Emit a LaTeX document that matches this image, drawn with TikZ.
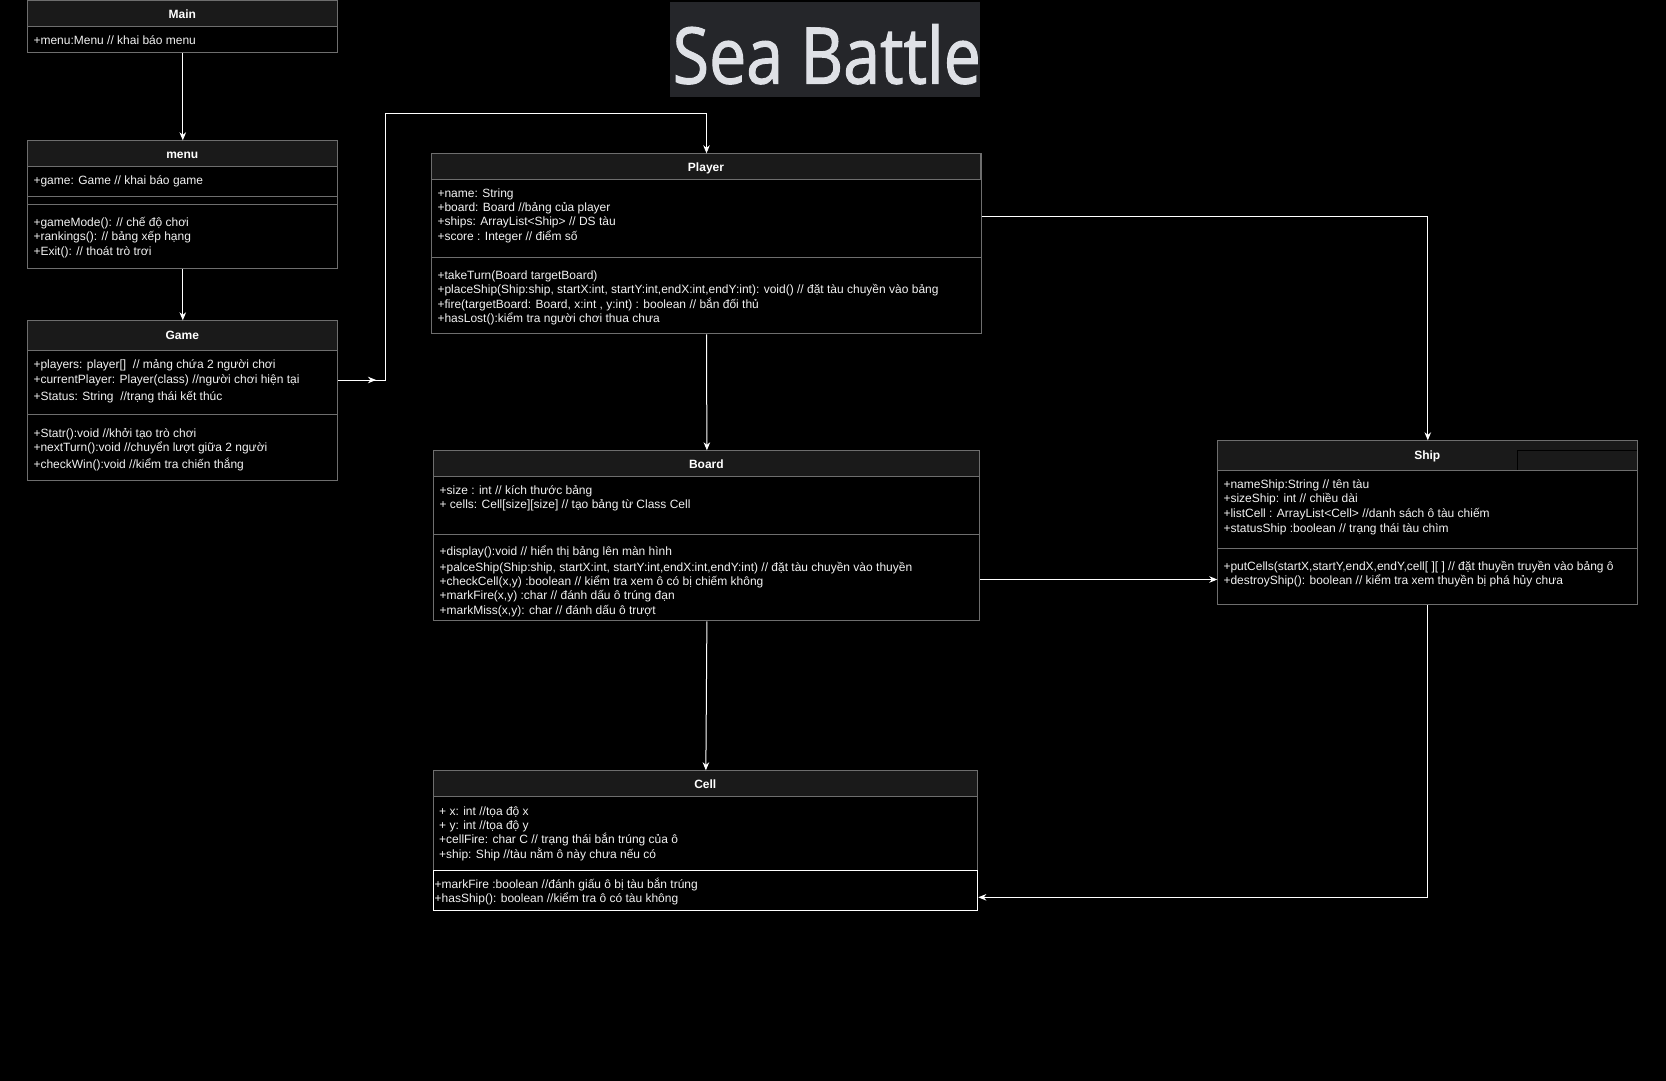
\documentclass[tikz,border=0pt]{standalone}
\usepackage{fontspec}
\setmainfont{Liberation Sans}
\newfontfamily\titlefont[FakeBold=1.5]{Open Sans}
\usetikzlibrary{arrows.meta}
\definecolor{bordergray}{HTML}{6E6E6E}
\definecolor{headfill}{HTML}{1A1A1A}
\definecolor{titlebg}{HTML}{25262A}
\definecolor{titletxt}{HTML}{DFE1E6}
\definecolor{txtcol}{HTML}{F2F2F2}
\tikzset{
  classbox/.style={draw=bordergray, line width=1pt, anchor=north west, inner sep=0pt, fill=black},
  headbox/.style={draw=bordergray, line width=1pt, fill=headfill},
  sepline/.style={draw=bordergray, line width=1pt},
  headtxt/.style={font=\bfseries\fontsize{12}{14}\selectfont, text=white, inner sep=0pt, text height=10.5pt, text depth=1pt},
  membertxt/.style={font=\fontsize{12}{14}\selectfont, text=txtcol, anchor=west, inner sep=0pt, text height=10.5pt, text depth=1pt},
  wire/.style={draw=white, line width=1pt},
  arrowend/.style={-{Stealth[length=8pt,width=6.5pt,inset=2.5pt]}}
}
\begin{document}
\begin{tikzpicture}[x=1pt,y=-1pt]
\useasboundingbox (0,0) rectangle (1666,1081);
\fill[black] (0,0) rectangle (1666,1081);

% ---------- Title ----------
\node[anchor=north west, minimum width=310pt, minimum height=95pt, fill=titlebg, inner sep=0pt] (titlebox) at (670,1.7) {};
\node[anchor=base west, inner sep=0pt, xscale=0.85, text=titletxt, font=\titlefont\fontsize{78}{80}\selectfont] (title) at (672.5,83.5) {Sea Battle};

% ---------- Main ----------
\node[classbox, minimum width=310pt, minimum height=51.6pt] (main) at (27.3,0.7) {};
\draw[headbox] (27.3,0.7) rectangle (337.3,26.3);
\node[headtxt] (mainH) at (182.3,13.5) {Main};
\node[membertxt] (mainA1) at (33.3,40) {+menu:Menu // khai báo menu};

% ---------- menu ----------
\node[classbox, minimum width=310pt, minimum height=127.7pt] (menu) at (27.3,140.3) {};
\draw[headbox] (27.3,140.3) rectangle (337.3,166.3);
\draw[sepline] (27.3,196.3) -- (337.3,196.3);
\draw[sepline] (27.3,204) -- (337.3,204);
\node[headtxt] (menuH) at (182.3,153.8) {menu};
\node[membertxt] (menuA1) at (33.3,180) {+game: Game // khai báo game};
\node[membertxt] (menuM1) at (33.3,221.7) {+gameMode(): // chế độ chơi};
\node[membertxt] (menuM2) at (33.3,236) {+rankings(): // bảng xếp hạng};
\node[membertxt] (menuM3) at (33.3,250.3) {+Exit(): // thoát trò trơi};

% ---------- Game ----------
\node[classbox, minimum width=310pt, minimum height=160pt] (game) at (27.3,320.3) {};
\draw[headbox] (27.3,320.3) rectangle (337.3,350.3);
\draw[sepline] (27.3,414.3) -- (337.3,414.3);
\node[headtxt] (gameH) at (182.3,334.5) {Game};
\node[membertxt] (gameA1) at (33.3,363.3) {+players: player[]\ \ // mảng chứa 2 người chơi};
\node[membertxt] (gameA2) at (33.3,379) {+currentPlayer: Player(class) //người chơi hiện tại};
\node[membertxt] (gameA3) at (33.3,395.7) {+Status: String\ \ //trạng thái kết thúc};
\node[membertxt] (gameM1) at (33.3,432.3) {+Statr():void //khởi tạo trò chơi};
\node[membertxt] (gameM2) at (33.3,446.7) {+nextTurn():void //chuyển lượt giữa 2 người};
\node[membertxt] (gameM3) at (33.3,464) {+checkWin():void //kiểm tra chiến thắng};

% ---------- Player ----------
\node[classbox, minimum width=549.4pt, minimum height=180pt] (player) at (431.3,153.3) {};
\draw[headbox] (431.3,153.3) rectangle (980.7,179.3);
\draw[sepline] (431.3,257.3) -- (980.7,257.3);
\node[headtxt] (playerH) at (706,166.8) {Player};
\node[membertxt] (playerA1) at (437.3,192.7) {+name: String};
\node[membertxt] (playerA2) at (437.3,206.7) {+board: Board //bảng của player};
\node[membertxt] (playerA3) at (437.3,221.2) {+ships: ArrayList<Ship> // DS tàu};
\node[membertxt] (playerA4) at (437.3,235.5) {+score : Integer // điểm số};
\node[membertxt] (playerM1) at (437.3,275) {+takeTurn(Board targetBoard)};
\node[membertxt] (playerM2) at (437.3,289) {+placeShip(Ship:ship, startX:int, startY:int,endX:int,endY:int): void() // đặt tàu chuyền vào bảng};
\node[membertxt] (playerM3) at (437.3,303.3) {+fire(targetBoard: Board, x:int , y:int) : boolean // bắn đối thủ};
\node[membertxt] (playerM4) at (437.3,317.3) {+hasLost():kiểm tra người chơi thua chưa};

% ---------- Board ----------
\node[classbox, minimum width=546pt, minimum height=170pt] (board) at (433.4,450.3) {};
\draw[headbox] (433.4,450.3) rectangle (979.4,476.3);
\draw[sepline] (433.4,534.7) -- (979.4,534.7);
\node[headtxt] (boardH) at (706.4,464) {Board};
\node[membertxt] (boardA1) at (439.4,490) {+size : int // kích thước bảng};
\node[membertxt] (boardA2) at (439.4,504) {+ cells: Cell[size][size] // tạo bảng từ Class Cell};
\node[membertxt] (boardM1) at (439.4,551) {+display():void // hiển thị bảng lên màn hình};
\node[membertxt] (boardM2) at (439.4,566.3) {+palceShip(Ship:ship, startX:int, startY:int,endX:int,endY:int) // đặt tàu chuyền vào thuyền};
\node[membertxt] (boardM3) at (439.4,581) {+checkCell(x,y) :boolean // kiểm tra xem ô có bị chiếm không};
\node[membertxt] (boardM4) at (439.4,595) {+markFire(x,y) :char // đánh dấu ô trúng đạn};
\node[membertxt] (boardM5) at (439.4,610) {+markMiss(x,y): char // đánh dấu ô trượt};

% ---------- Cell ----------
\node[classbox, minimum width=543.9pt, minimum height=140pt] (cell) at (433.4,770.3) {};
\draw[headbox] (433.4,770.3) rectangle (977.3,796.3);
\draw[draw=white, line width=1pt] (433.4,870) rectangle (977.3,910.3);
\node[headtxt] (cellH) at (705.3,784) {Cell};
\node[membertxt] (cellA1) at (439,810.7) {+ x: int //tọa độ x};
\node[membertxt] (cellA2) at (439,824.5) {+ y: int //tọa độ y};
\node[membertxt] (cellA3) at (439,839) {+cellFire: char C // trạng thái bắn trúng của ô};
\node[membertxt] (cellA4) at (439,853.3) {+ship: Ship //tàu nằm ô này chưa nếu có};
\node[membertxt] (cellM1) at (434.5,883.3) {+markFire :boolean //đánh giấu ô bị tàu bắn trúng};
\node[membertxt] (cellM2) at (434.5,897.3) {+hasShip(): boolean //kiểm tra ô có tàu không};

% ---------- Ship ----------
\node[classbox, minimum width=420pt, minimum height=163.7pt] (ship) at (1217.3,440.3) {};
\draw[headbox] (1217.3,440.3) rectangle (1637.3,470.3);
\draw[black, line width=1pt] (1517.3,469.8) -- (1517.3,450.3) -- (1636.8,450.3);
\draw[sepline] (1217.3,548) -- (1637.3,548);
\node[headtxt] (shipH) at (1427.3,454.5) {Ship};
\node[membertxt] (shipA1) at (1223.3,483.3) {+nameShip:String // tên tàu};
\node[membertxt] (shipA2) at (1223.3,497.7) {+sizeShip: int // chiều dài};
\node[membertxt] (shipA3) at (1223.3,512.3) {+listCell : ArrayList<Cell> //danh sách ô tàu chiếm};
\node[membertxt] (shipA4) at (1223.3,527.3) {+statusShip :boolean // trạng thái tàu chìm};
\node[membertxt] (shipM1) at (1223.3,566) {+putCells(startX,startY,endX,endY,cell[ ][ ] // đặt thuyền truyền vào bảng ô};
\node[membertxt] (shipM2) at (1223.3,580) {+destroyShip(): boolean // kiểm tra xem thuyền bị phá hủy chưa};

% ---------- Connectors ----------
\draw[wire, arrowend] (main.south) -- (menu.north);
\draw[wire, arrowend] (menu.south) -- (game.north);
\draw[wire, arrowend] ([yshift=-59.7pt]game.north east) -- ++(46.7,0) |- ([yshift=39.6pt]player.north) -- (player.north);
\draw[wire, arrowend] ([yshift=-59.7pt]game.north east) -- ++(37.7,0);
\draw[wire, arrowend] (player.south) -- (board.north);
\draw[wire, arrowend] ([yshift=-62.8pt]player.north east) -| (ship.north);
\draw[wire, arrowend] ([yshift=-129.2pt]board.north east) -- ([yshift=-139.2pt]ship.north west);
\draw[wire, arrowend] (board.south) -- (cell.north);
\draw[wire, arrowend] (ship.south) |- ([yshift=-127pt]cell.north east);
\end{tikzpicture}
\end{document}
